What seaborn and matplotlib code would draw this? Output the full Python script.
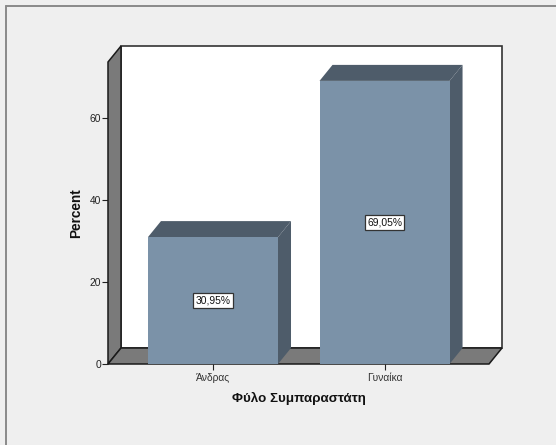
import pandas as pd
import matplotlib
matplotlib.use("Agg")
import matplotlib.pyplot as plt
from matplotlib.lines import Line2D
import seaborn as sns

categories = ["Άνδρας", "Γυναίκα"]
percents = [30.95, 69.05]
y_ticks = [0, 20, 40, 60]

W, H = 556, 445
BG = "#efefef"
WALL = "#7a7a7a"
FRONT = "#7b92a8"
DARK = "#4e5c6a"
LINE = "#1a1a1a"


def main():
    sns.set_style("white")
    plt.rcParams["font.family"] = ["Liberation Sans", "DejaVu Sans"]

    df = pd.DataFrame({"sex": categories, "percent": percents})

    fig = plt.figure(figsize=(W / 100, H / 100), dpi=100, facecolor=BG)
    # front plane of the box: 108-489 px across, 62-364 px down
    ax = fig.add_axes([108 / W, 1 - 364 / H, 381 / W, 302 / H])
    ax.patch.set_visible(False)

    sns.barplot(data=df, x="sex", y="percent", color=FRONT, saturation=1, width=0.758, ax=ax, zorder=4, linewidth=0)

    ax.set_xlim(-0.612, 1.609)
    ax.set_ylim(0, 302 / 4.1)
    top = ax.get_ylim()[1]
    left, right = ax.get_xlim()

    # depth of the fake 3d, in data units
    dx = 13 / 171.5
    dy = 16 / 4.1

    # back wall, left wall, floor
    ax.fill([left + dx, right + dx, right + dx, left + dx], [dy, dy, top + dy, top + dy],
            facecolor="white", edgecolor="#333333", linewidth=1.2, clip_on=False, zorder=1)
    ax.fill([left, left + dx, left + dx, left], [0, dy, top + dy, top],
            facecolor=WALL, edgecolor=LINE, linewidth=1.1, clip_on=False, zorder=2)
    ax.fill([left, right, right + dx, left + dx], [0, 0, dy, dy],
            facecolor=WALL, edgecolor=LINE, linewidth=1.1, clip_on=False, zorder=2)

    # bar sides and tops, taken from the seaborn bars
    for bar, value in zip(ax.patches, percents):
        x0 = bar.get_x()
        x1 = x0 + bar.get_width()
        ax.fill([x1, x1 + dx, x1 + dx, x1], [0, dy, value + dy, value],
                facecolor=DARK, edgecolor="none", clip_on=False, zorder=3)
        ax.fill([x0, x0 + dx, x1 + dx, x1], [value, value + dy, value + dy, value],
                facecolor=DARK, edgecolor="none", clip_on=False, zorder=3)
        ax.text(x0 + bar.get_width() / 2, value / 2, f"{value:.2f}%".replace(".", ","),
                ha="center", va="center", fontsize=7.4, color="#111111", zorder=6,
                bbox=dict(boxstyle="square,pad=0.2", facecolor="white", edgecolor="#333333", linewidth=0.9))

    sns.despine(ax=ax, left=True, bottom=True, top=True, right=True)
    ax.set_yticks(y_ticks)
    ax.tick_params(axis="y", left=True, length=4.3, width=0.8, color="#222222", labelsize=7.4, labelcolor="#222222", pad=0.5)
    ax.tick_params(axis="x", bottom=True, length=4.3, width=0.8, color="#222222", labelsize=7.4, labelcolor="#333333", pad=2)
    ax.set_xlabel("Φύλο Συμπαραστάτη", fontsize=9.6, fontweight="bold", color="#111111", labelpad=6.5)
    ax.set_ylabel("Percent", fontsize=9.8, fontweight="bold", color="#111111", labelpad=4.5)

    # window frame, only on the top and left
    fig.add_artist(Line2D([5.5 / W, 5.5 / W], [0, 1 - 5.5 / H], color="#8a8a8a", linewidth=1.4))
    fig.add_artist(Line2D([5.5 / W, 1], [1 - 5.5 / H, 1 - 5.5 / H], color="#8a8a8a", linewidth=1.4))

    fig.savefig("out.png", dpi=100, facecolor=BG)


if __name__ == "__main__":
    main()
